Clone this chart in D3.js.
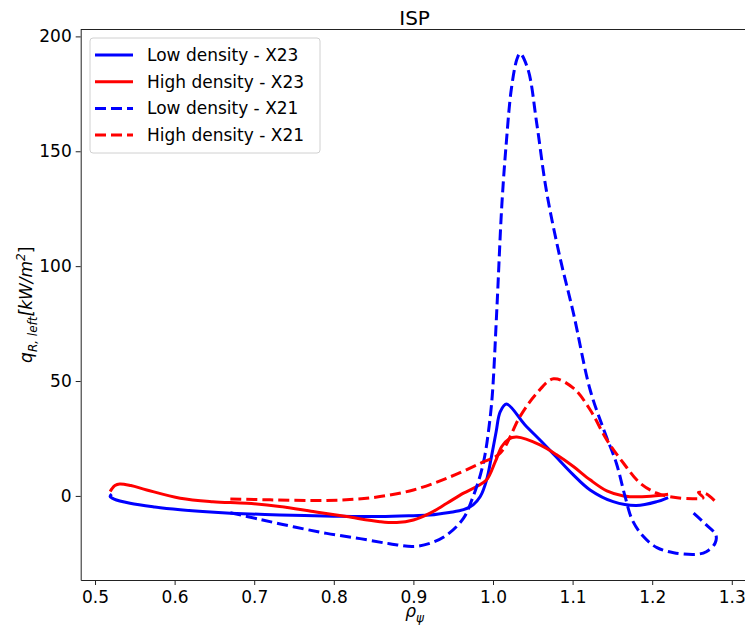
<!DOCTYPE html>
<html>
<head>
<meta charset="utf-8">
<script src="https://cdn.jsdelivr.net/npm/d3@7"></script>
<style>
body { margin: 0; background: #fff; }
svg text { font-family: "DejaVu Sans", sans-serif; fill: #000; }
</style>
</head>
<body>
<svg id="chart" width="745" height="627"></svg>
<script>
// ISP radiated heat flux profiles
var xTicks = [0.5, 0.6, 0.7, 0.8, 0.9, 1.0, 1.1, 1.2, 1.3]
var yTicks = [0, 50, 100, 150, 200]

var lowX23_x = [0.521, 0.519, 0.524, 0.544, 0.575, 0.607, 0.64, 0.67, 0.732, 0.8, 0.858, 0.9, 0.921, 0.945, 0.963, 0.975, 0.984, 0.992, 0.998, 1.004, 1.009, 1.017, 1.04, 1.06, 1.078, 1.10, 1.122, 1.151, 1.18, 1.206, 1.220]
var lowX23_y = [0.8, -0.2, -1.4, -3.2, -4.8, -6.0, -6.9, -7.5, -8.3, -8.8, -9.0, -8.6, -8.3, -7.2, -6.0, -3.9, -0.3, 7, 17, 28, 36.6, 40, 31, 24, 17.5, 9.5, 2.6, -2.5, -4.2, -2.5, -0.7]

var highX23_x = [0.519, 0.521, 0.525, 0.531, 0.545, 0.565, 0.607, 0.648, 0.691, 0.732, 0.774, 0.816, 0.858, 0.879, 0.9, 0.921, 0.942, 0.963, 0.980, 0.992, 1.003, 1.011, 1.020, 1.03, 1.059, 1.08, 1.101, 1.122, 1.143, 1.164, 1.193, 1.22]
var highX23_y = [1.9, 3.0, 4.5, 5.2, 4.5, 2.6, -1.0, -2.5, -3.2, -4.6, -6.8, -9.0, -11.2, -11.6, -10.5, -7.5, -3.2, 1.2, 4.2, 7, 15, 21.5, 24.8, 25.6, 22.2, 17.9, 12.8, 7.0, 2.2, 0, -0.3, 0.7]

var lowX21_x = [0.670, 0.707, 0.749, 0.791, 0.833, 0.870, 0.9, 0.921, 0.942, 0.963, 0.975, 0.984, 0.990, 0.995, 0.999, 1.005, 1.011, 1.017, 1.023, 1.030, 1.034, 1.044, 1.055, 1.067, 1.084, 1.101, 1.122, 1.140, 1.155, 1.166, 1.175, 1.189, 1.206, 1.227, 1.256, 1.268, 1.279, 1.280, 1.268, 1.252]
var lowX21_y = [-7.3, -10.2, -13.4, -16.3, -18.6, -20.8, -22.0, -20.6, -17.0, -9.7, -0.3, 9, 18, 30, 43.3, 82.5, 126, 155, 177, 190, 192.6, 185.6, 162, 133, 104, 79.6, 46.2, 28, 14.2, -0.3, -10.5, -17.7, -22.5, -24.7, -25.4, -24.3, -20.6, -17, -12.6, -7.5]

var highX21_x = [0.670, 0.72, 0.774, 0.82, 0.858, 0.9, 0.942, 0.984, 1.009, 1.034, 1.055, 1.076, 1.101, 1.122, 1.143, 1.164, 1.185, 1.206, 1.227, 1.252, 1.264, 1.258, 1.268, 1.281]
var highX21_y = [-1.3, -1.7, -2.0, -1.6, -0.3, 2.6, 7.7, 14.2, 18.6, 34.6, 44.7, 51, 46.9, 37.5, 24.4, 14.2, 5.5, 1.2, -0.6, -1.2, -0.8, 1.5, 0.9, -3.0]

var seriesNames = ["Low density - X23", "High density - X23", "Low density - X21", "High density - X21"]
var seriesColors = ["#0000ff", "#ff0000", "#0000ff", "#ff0000"]
var seriesDashed = [false, false, true, true]
var seriesX = [lowX23_x, highX23_x, lowX21_x, highX21_x]
var seriesY = [lowX23_y, highX23_y, lowX21_y, highX21_y]

var series = seriesNames.map(function(name, i){
  return {
    name: name, color: seriesColors[i], dashed: seriesDashed[i],
    points: seriesX[i].map(function(x, j){ return [x, seriesY[i][j]] })
  }
})

var svg = d3.select("#chart")
var plotLeft = 80.7, plotTop = 29.5, plotRight = 748.5, plotBottom = 580

var x = d3.scaleLinear().domain([0.482, 1.321]).range([plotLeft, plotRight])
var y = d3.scaleLinear().domain([-36.6, 203]).range([plotBottom, plotTop])

// axes
var xAxis = svg.append("g")
  .attr("transform", "translate(0," + plotBottom + ")")
  .call(d3.axisBottom(x).tickValues(xTicks).tickFormat(d3.format(".1f")).tickSize(5).tickSizeOuter(0).tickPadding(6))
var yAxis = svg.append("g")
  .attr("transform", "translate(" + plotLeft + ",0)")
  .call(d3.axisLeft(y).tickValues(yTicks).tickFormat(d3.format("d")).tickSize(5).tickSizeOuter(0).tickPadding(4))
svg.selectAll(".tick text").style("font-size", "17px").style("font-family", "DejaVu Sans")
svg.selectAll(".domain, .tick line").attr("stroke", "#222").attr("stroke-width", 1)

// top spine
svg.append("line")
  .attr("x1", plotLeft).attr("x2", plotRight).attr("y1", plotTop).attr("y2", plotTop)
  .attr("stroke", "#222").attr("stroke-width", 1)

var line = d3.line()
  .x(function(d){ return x(d[0]) })
  .y(function(d){ return y(d[1]) })
  .curve(d3.curveCatmullRom.alpha(0.5))

svg.append("g").selectAll("path")
  .data(series)
  .enter().append("path")
  .attr("d", function(d){ return line(d.points) })
  .attr("fill", "none")
  .attr("stroke", function(d){ return d.color })
  .attr("stroke-width", 3)
  .attr("stroke-dasharray", function(d){ return d.dashed ? "11,5" : null })
  .attr("stroke-linejoin", "round")

// title
svg.append("text")
  .attr("x", (plotLeft + plotRight) / 2).attr("y", 25)
  .attr("text-anchor", "middle")
  .style("font-size", "20px")
  .text("ISP")

// x label
var xl = svg.append("text")
  .attr("x", (plotLeft + plotRight) / 2).attr("y", 617)
  .attr("text-anchor", "middle")
  .style("font-size", "17px").style("font-style", "italic")
xl.append("tspan").text("ρ")
xl.append("tspan").attr("dy", 5).style("font-size", "12px").text("ψ")

// y label
var yl = svg.append("text")
  .attr("transform", "translate(32," + ((plotTop + plotBottom) / 2) + ") rotate(-90)")
  .attr("text-anchor", "middle")
  .style("font-size", "17px").style("font-style", "italic")
yl.append("tspan").text("q")
yl.append("tspan").attr("dy", 5).style("font-size", "12px").text("R, left")
yl.append("tspan").attr("dy", -5).text("[kW/m")
yl.append("tspan").attr("dy", -7).style("font-size", "12px").text("2")
yl.append("tspan").attr("dy", 7).style("font-style", "normal").text("]")

// legend
var legend = svg.append("g")
legend.append("rect")
  .attr("x", 90).attr("y", 38).attr("width", 230).attr("height", 115)
  .attr("rx", 3).attr("fill", "#fff").attr("fill-opacity", 0.8)
  .attr("stroke", "#d0d0d0").attr("stroke-width", 1)
var rows = legend.selectAll("g.row").data(series).enter().append("g")
  .attr("transform", function(d, i){ return "translate(0," + (55 + i * 26.7) + ")" })
rows.append("line")
  .attr("x1", 95).attr("x2", 133).attr("y1", 0).attr("y2", 0)
  .attr("stroke", function(d){ return d.color })
  .attr("stroke-width", 3)
  .attr("stroke-dasharray", function(d){ return d.dashed ? "11,5" : null })
rows.append("text")
  .attr("x", 147).attr("y", 6)
  .style("font-size", "17px")
  .text(function(d){ return d.name })
</script>
</body>
</html>
